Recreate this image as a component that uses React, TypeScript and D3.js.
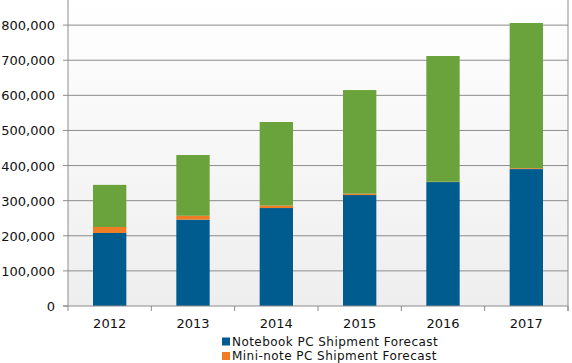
import * as d3 from "d3";

const years = ["2012", "2013", "2014", "2015", "2016", "2017"];
const notebook = [208000, 246000, 279000, 316000, 353000, 390000];
const miniNote = [17000, 11000, 7000, 4000, 800, 2500];
const other = [120000, 173000, 238000, 295000, 358200, 413500];
const yTicks = [0, 100000, 200000, 300000, 400000, 500000, 600000, 700000, 800000];

const seriesNames = ["Notebook PC Shipment Forecast", "Mini-note PC Shipment Forecast"];
const colors = ["#005b8f", "#f07d25", "#6aa33c"];

const W = 572;
const H = 363;
const M = { left: 68, right: 4, zero: 306, top: -10 };

export default function App() {
  const x = d3
    .scaleBand<string>()
    .domain(years)
    .range([M.left, W - M.right])
    .padding(0);
  const y = d3.scaleLinear().domain([0, 900000]).range([M.zero, M.top]);
  const step = x.step();
  const barW = step * 0.4;

  const rows = years.map((yr, i) => ({ year: yr, a: notebook[i], b: miniNote[i], c: other[i] }));
  const stack = d3.stack<any>().keys(["a", "b", "c"])(rows);

  const fmt = d3.format(",");
  const font = "'DejaVu Sans', Verdana, sans-serif";

  return (
    <svg
      width={W}
      height={H}
      style={{ position: "absolute", left: 0, top: 0, background: "#fff" }}
    >
      <defs>
        <linearGradient id="bg" x1="0" y1="0" x2="0" y2="1">
          <stop offset="0%" stopColor="#ffffff" />
          <stop offset="100%" stopColor="#eeeeee" />
        </linearGradient>
      </defs>
      <rect
        x={M.left}
        y={0}
        width={W - M.right - M.left}
        height={M.zero}
        fill="url(#bg)"
      />
      {/* gridlines + y ticks */}
      {yTicks.map((t) => (
        <g key={t}>
          {t > 0 && (
            <line x1={M.left} x2={W - M.right} y1={y(t)} y2={y(t)} stroke="#8c8c8c" strokeWidth={1} />
          )}
          <line x1={M.left - 5} x2={M.left} y1={y(t)} y2={y(t)} stroke="#8c8c8c" />
          <text
            x={55}
            y={y(t) + 5}
            textAnchor="end"
            fontFamily={font}
            fontSize={13}
            fill="#111"
          >
            {fmt(t)}
          </text>
        </g>
      ))}
      {/* bars */}
      {stack.map((s, si) =>
        s.map((d, i) => (
          <rect
            key={`${si}-${i}`}
            x={(x(years[i]) as number) + (step - barW) / 2}
            width={barW}
            y={y(d[1])}
            height={y(d[0]) - y(d[1])}
            fill={colors[si]}
          />
        ))
      )}
      {/* axes */}
      <line x1={M.left} x2={M.left} y1={0} y2={M.zero + 5} stroke="#8c8c8c" />
      <line x1={W - M.right} x2={W - M.right} y1={0} y2={M.zero + 5} stroke="#8c8c8c" />
      <line x1={M.left - 5} x2={W - M.right} y1={M.zero} y2={M.zero} stroke="#8c8c8c" />
      {years.map((yr) => (
        <g key={yr}>
          <line
            x1={(x(yr) as number) + step}
            x2={(x(yr) as number) + step}
            y1={M.zero}
            y2={M.zero + 5}
            stroke="#8c8c8c"
          />
          <text
            x={(x(yr) as number) + step / 2}
            y={328}
            textAnchor="middle"
            fontFamily={font}
            fontSize={13}
            fill="#111"
          >
            {yr}
          </text>
        </g>
      ))}
      {/* legend */}
      {seriesNames.map((n, i) => (
        <g key={n} transform={`translate(222,${345.5 + i * 14.5})`}>
          <rect x={0} y={-8} width={8} height={8} fill={colors[i]} />
          <text x={10} y={0} fontFamily={font} fontSize={12} letterSpacing={0.45} fill="#111">
            {n}
          </text>
        </g>
      ))}
    </svg>
  );
}
